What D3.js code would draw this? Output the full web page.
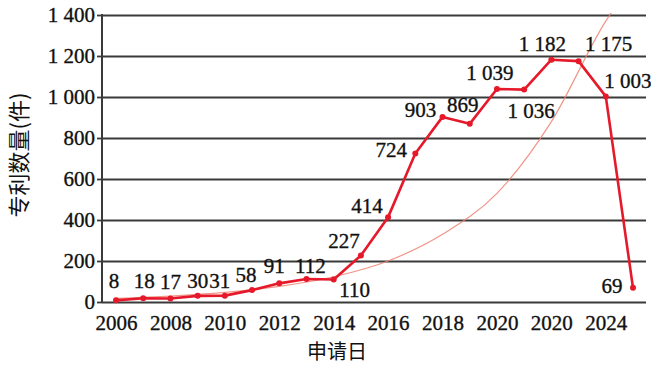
<!DOCTYPE html>
<html><head><meta charset="utf-8">
<script src="https://cdn.jsdelivr.net/npm/d3@7"></script>
<style>
html,body{margin:0;padding:0;background:#fff;}
svg{display:block;}
.serif{font-family:"Liberation Serif","Times New Roman",Times,"DejaVu Serif",serif;stroke:#111;stroke-width:0.35px;}
.cjk{font-family:"Noto Sans CJK SC","Noto Sans",sans-serif;}
</style></head>
<body>
<svg id="chart" width="651" height="366"></svg>
<script>
// ---- data ----
const years = [2006,2007,2008,2009,2010,2011,2012,2013,2014,2015,2016,2017,2018,2019,2020,2021,2022,2023,2024,2025];
const counts = [8,18,17,30,31,58,91,112,110,227,414,724,903,869,1039,1036,1182,1175,1003,69];
const valueLabels = ["8","18","17","30","31","58","91","112","110","227","414","724","903","869","1 039","1 036","1 182","1 175","1 003","69"];
const xTickYears = [2006,2008,2010,2012,2014,2016,2018,2020,2022,2024];
const xTickLabels = ["2006","2008","2010","2012","2014","2016","2018","2020","2020","2024"];
const yTickValues = [0,200,400,600,800,1000,1200,1400];
const yTickLabels = ["0","200","400","600","800","1 000","1 200","1 400"];
const trendYears = [2006,2008,2010,2012,2014,2016,2018,2020,2022,2024,2024.4];
const trendValues = [18,29,47,76,123,200,330,530,880,1370,1450];
const yTitle = "专利数量(件)";
const xTitle = "申请日";

// ---- label placement (style) ----
const labelDx = [-2,1,0,0,-5,-6,-5,4,21,-17,-21,-24,-22,-7,-7,7,-9,30,22,-21];
const labelDy = [-12,-10,-10,-8,-8,-8,-10,-6,18,-7,-4,3,0,-12,-9,28,-9,-10,-8,5];

const svg = d3.select("#chart");
const L = 102, R = 646, T = 15, B = 302;
const x = d3.scaleLinear().domain([2006, 2025]).range([116, 633]);
const y = d3.scaleLinear().domain([0, 1400]).range([B, T]);

// gridlines + y axis
const yAxis = d3.axisLeft(y).tickValues(yTickValues)
  .tickFormat((d,i) => yTickLabels[i]).tickSize(-(R - L)).tickPadding(7);
const gy = svg.append("g").attr("transform", `translate(${L},0)`).call(yAxis);
gy.attr("font-family", null).attr("font-size", null);
gy.select(".domain").remove();
gy.selectAll(".tick line").attr("stroke", "#3a3a3a").attr("stroke-width", 1.8);
gy.selectAll(".tick").append("line").attr("x1", -5).attr("x2", 0)
  .attr("stroke", "#3a3a3a").attr("stroke-width", 1.8);
gy.selectAll(".tick text").attr("class", "serif").style("font-size", "21px").attr("fill", "#111");
svg.append("line").attr("x1", L).attr("x2", L).attr("y1", T - 1).attr("y2", B + 1)
  .attr("stroke", "#3a3a3a").attr("stroke-width", 2);

// x axis labels
const xAxis = d3.axisBottom(x).tickValues(xTickYears)
  .tickFormat((d,i) => xTickLabels[i]).tickSize(0).tickPadding(13);
const gx = svg.append("g").attr("transform", `translate(0,${B})`).call(xAxis);
gx.attr("font-family", null).attr("font-size", null);
gx.select(".domain").remove();
gx.selectAll(".tick text").attr("class", "serif").style("font-size", "21px").attr("fill", "#111");

// clip
svg.append("clipPath").attr("id", "plotclip").append("rect")
  .attr("x", L).attr("y", T - 2).attr("width", R - L).attr("height", B - T + 2);

// trend line
const trend = trendYears.map((t,i) => [t, trendValues[i]]);
svg.append("path").datum(trend)
  .attr("clip-path", "url(#plotclip)")
  .attr("d", d3.line().x(d => x(d[0])).y(d => y(d[1])).curve(d3.curveMonotoneX))
  .attr("fill", "none").attr("stroke", "#ee8272").attr("stroke-width", 1.2).attr("opacity", 0.85);

// data line
const pts = years.map((t,i) => [t, counts[i]]);
svg.append("path").datum(pts)
  .attr("d", d3.line().x(d => x(d[0])).y(d => y(d[1])))
  .attr("fill", "none").attr("stroke", "#e5192a").attr("stroke-width", 2.6).attr("stroke-linejoin", "round");
svg.selectAll("circle.pt").data(pts).enter().append("circle")
  .attr("cx", d => x(d[0])).attr("cy", d => y(d[1])).attr("r", 3).attr("fill", "#e5192a");

// value labels
svg.selectAll("text.val").data(pts).enter().append("text")
  .attr("class", "serif")
  .attr("x", (d,i) => x(d[0]) + labelDx[i]).attr("y", (d,i) => y(d[1]) + labelDy[i])
  .attr("text-anchor", "middle").style("font-size", "21px").attr("fill", "#111")
  .text((d,i) => valueLabels[i]);

// titles
svg.append("text").attr("class", "cjk").attr("transform", "translate(27,155) rotate(-90)")
  .attr("text-anchor", "middle").style("font-size", "22px").attr("fill", "#111").text(yTitle);
svg.append("text").attr("class", "cjk").attr("x", 337).attr("y", 359).attr("text-anchor", "middle")
  .style("font-size", "20px").attr("fill", "#111").text(xTitle);
</script>
</body></html>
